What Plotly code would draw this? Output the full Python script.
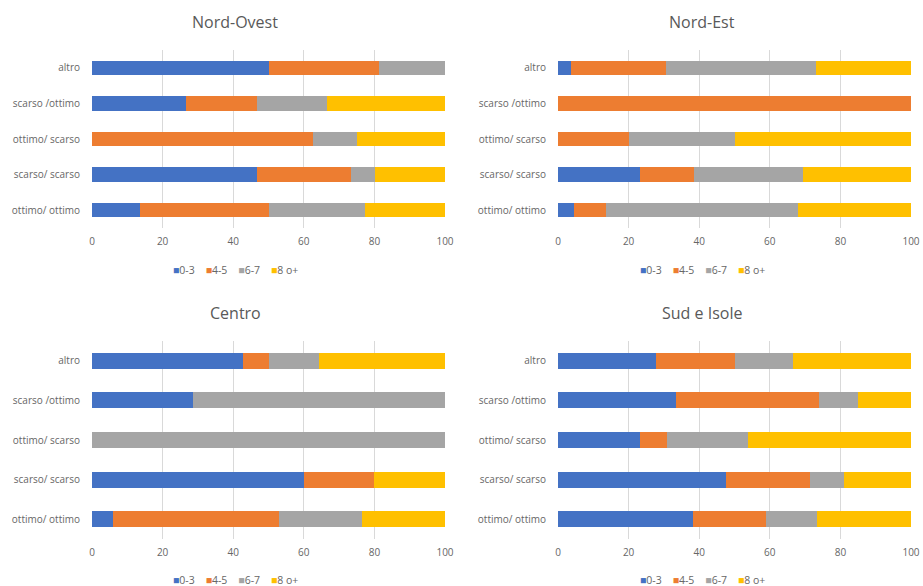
import plotly.graph_objects as go

# Survey categories (bottom to top on the y axis)
categories = ["ottimo/ ottimo", "scarso/ scarso", "ottimo/ scarso", "scarso /ottimo", "altro"]
series_names = ["0-3", "4-5", "6-7", "8 o+"]
series_colors = ["#4472C4", "#ED7D31", "#A5A5A5", "#FFC000"]
x_ticks = [0, 20, 40, 60, 80, 100]

# Percentage shares per area, one list per score band, ordered like `categories`
nord_ovest_03 = [13.6, 46.7, 0.0, 26.7, 50.0]
nord_ovest_45 = [36.4, 26.7, 62.5, 20.0, 31.3]
nord_ovest_67 = [27.3, 6.7, 12.5, 20.0, 18.7]
nord_ovest_8p = [22.7, 20.0, 25.0, 33.3, 0.0]

nord_est_03 = [4.5, 23.1, 0.0, 0.0, 3.8]
nord_est_45 = [9.1, 15.4, 20.0, 100.0, 26.9]
nord_est_67 = [54.5, 30.8, 30.0, 0.0, 42.3]
nord_est_8p = [31.8, 30.8, 50.0, 0.0, 26.9]

centro_03 = [5.9, 60.0, 0.0, 28.6, 42.9]
centro_45 = [47.1, 20.0, 0.0, 0.0, 7.1]
centro_67 = [23.5, 0.0, 100.0, 71.4, 14.3]
centro_8p = [23.5, 20.0, 0.0, 0.0, 35.7]

sud_isole_03 = [38.2, 47.6, 23.1, 33.3, 27.8]
sud_isole_45 = [20.6, 23.8, 7.7, 40.7, 22.2]
sud_isole_67 = [14.7, 9.5, 23.1, 11.1, 16.7]
sud_isole_8p = [26.5, 19.0, 46.2, 14.8, 33.3]

panels = [
    ("Nord-Ovest", [nord_ovest_03, nord_ovest_45, nord_ovest_67, nord_ovest_8p]),
    ("Nord-Est", [nord_est_03, nord_est_45, nord_est_67, nord_est_8p]),
    ("Centro", [centro_03, centro_45, centro_67, centro_8p]),
    ("Sud e Isole", [sud_isole_03, sud_isole_45, sud_isole_67, sud_isole_8p]),
]

W, H = 923, 586
FONT = "Open Sans"
TEXT_GREY = "#666666"
GRID = "#D9D9D9"

# Plot-area pixel boxes (left, right, top, bottom) and centre used for title/legend
boxes = [
    (92, 445, 50, 228, 235, 22, 270),
    (558, 911, 50, 228, 702, 22, 270),
    (92, 445, 341, 539, 235, 313, 580),
    (558, 911, 341, 539, 702, 313, 580),
]

fig = go.Figure()
annotations = []
layout_axes = {}

for i, ((title, series), box) in enumerate(zip(panels, boxes)):
    left, right, top, bottom, cx, ty, ly = box
    n = i + 1
    xa = "x" if n == 1 else f"x{n}"
    ya = "y" if n == 1 else f"y{n}"
    for name, color, vals in zip(series_names, series_colors, series):
        fig.add_trace(go.Bar(
            x=vals, y=categories, orientation="h", name=name,
            marker=dict(color=color, line=dict(width=0)),
            xaxis=xa, yaxis=ya, showlegend=False,
        ))
    xkey = "xaxis" if n == 1 else f"xaxis{n}"
    ykey = "yaxis" if n == 1 else f"yaxis{n}"
    layout_axes[xkey] = dict(
        domain=[left / W, right / W], anchor=ya, range=[0, 100],
        tickvals=x_ticks, showgrid=True, gridcolor=GRID, gridwidth=1,
        zeroline=False, showline=False, ticks="", ticklabelstandoff=6,
        automargin=False,
        tickfont=dict(family=FONT, size=10, color=TEXT_GREY),
    )
    layout_axes[ykey] = dict(
        domain=[1 - bottom / H, 1 - top / H], anchor=xa,
        categoryorder="array", categoryarray=categories,
        showgrid=False, zeroline=False, showline=False, ticks="",
        ticklabelstandoff=11, automargin=False,
        tickfont=dict(family=FONT, size=10, color=TEXT_GREY),
    )
    annotations.append(dict(
        x=cx / W, y=1 - ty / H, xref="paper", yref="paper",
        text=title, showarrow=False, xanchor="center", yanchor="middle",
        font=dict(family=FONT, size=16, color="#595959"),
    ))
    legend_text = "&nbsp;&nbsp;&nbsp;&nbsp;".join(
        f'<span style="color:{c}">■</span>{s}' for s, c in zip(series_names, series_colors)
    )
    annotations.append(dict(
        x=cx / W, y=1 - ly / H, xref="paper", yref="paper",
        text=legend_text, showarrow=False, xanchor="center", yanchor="middle",
        font=dict(family=FONT, size=10.5, color=TEXT_GREY),
    ))

fig.update_layout(
    width=W, height=H,
    margin=dict(l=0, r=0, t=0, b=0, pad=0),
    paper_bgcolor="white", plot_bgcolor="white",
    barmode="stack", bargap=0.6,
    annotations=annotations,
    **layout_axes,
)

fig.write_html("out.html")
